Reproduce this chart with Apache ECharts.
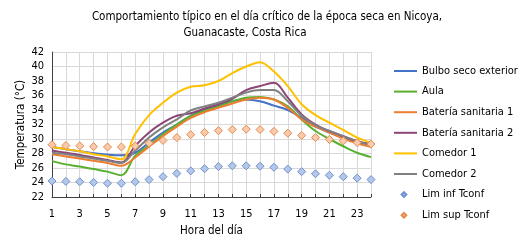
<!DOCTYPE html>
<html>
<head>
<meta charset="utf-8">
<script src="https://cdn.jsdelivr.net/npm/echarts@6/dist/echarts.min.js"></script>
<style>
  html, body { margin: 0; padding: 0; background: #fff; }
  #chart { width: 529px; height: 249px; }
</style>
</head>
<body>
<div id="chart"></div>
<script>
const hours = Array.from({ length: 24 }, (_, i) => String(i + 1));

const bulboSeco = [28.9, 28.6, 28.3, 28.05, 27.85, 27.75, 28.1, 29.5, 30.9, 32.0, 33.2, 34.0, 34.6, 35.2, 35.45, 35.2, 34.6, 34.0, 32.9, 31.7, 30.9, 30.2, 29.6, 29.2];
const aula = [26.95, 26.5, 26.2, 25.85, 25.5, 25.0, 27.7, 29.1, 30.65, 32.0, 33.2, 33.9, 34.5, 35.2, 35.7, 35.8, 35.45, 34.5, 32.7, 31.1, 30.0, 29.0, 28.1, 27.5];
const bateria1 = [27.9, 27.6, 27.3, 27.0, 26.7, 26.3, 27.45, 28.95, 30.4, 31.7, 32.9, 33.7, 34.3, 34.9, 35.45, 35.7, 35.45, 34.3, 32.7, 31.7, 30.9, 30.05, 29.4, 28.9];
const bateria2 = [28.4, 28.1, 27.8, 27.45, 27.1, 26.75, 29.05, 30.9, 32.25, 33.2, 33.55, 34.2, 34.8, 35.55, 36.75, 37.3, 37.75, 35.7, 33.4, 32.0, 31.1, 30.4, 29.7, 29.3];
const comedor1 = [28.9, 28.6, 28.3, 27.9, 27.6, 27.2, 30.7, 33.3, 35.0, 36.4, 37.2, 37.4, 38.0, 39.1, 40.0, 40.6, 39.3, 37.3, 34.8, 33.3, 32.25, 31.25, 30.2, 29.5];
const comedor2 = [28.1, 27.9, 27.6, 27.3, 27.0, 26.7, 28.4, 30.2, 31.6, 32.7, 33.95, 34.5, 35.0, 35.7, 36.4, 36.75, 36.75, 35.2, 33.2, 31.9, 31.1, 30.4, 29.7, 29.2];
const limInf = [24.2, 24.15, 24.1, 24.0, 23.9, 23.9, 24.1, 24.4, 24.8, 25.25, 25.6, 25.9, 26.2, 26.3, 26.3, 26.25, 26.1, 25.85, 25.5, 25.2, 25.0, 24.8, 24.6, 24.4];
const limSup = [29.2, 29.1, 29.05, 28.95, 28.9, 28.9, 29.05, 29.4, 29.8, 30.2, 30.6, 30.9, 31.15, 31.3, 31.35, 31.3, 31.05, 30.8, 30.5, 30.2, 29.95, 29.75, 29.5, 29.3];

const font = '"DejaVu Sans Condensed", "Liberation Sans", sans-serif';

// legend icons: a 2px line in a 23x7 box, and a small diamond in the same box
const lineIcon = 'path://M0,0L0,0M0,2.5L23,2.5L23,4.5L0,4.5ZM0,7L0,7M23,0L23,0';
const diamondIcon = 'path://M0,-1L0,-1M23,8L23,8M9.5,0.5L12.5,3.5L9.5,6.5L6.5,3.5Z';

const lineSeries = [
  { name: 'Bulbo seco exterior', data: bulboSeco, color: '#4472C4' },
  { name: 'Aula', data: aula, color: '#58B030' },
  { name: 'Batería sanitaria 1', data: bateria1, color: '#ED7D31' },
  { name: 'Batería sanitaria 2', data: bateria2, color: '#8C4577' },
  { name: 'Comedor 1', data: comedor1, color: '#FFC000' },
  { name: 'Comedor 2', data: comedor2, color: '#808080' },
].map(s => ({
  name: s.name,
  type: 'line',
  data: s.data,
  smooth: 0.35,
  symbol: 'none',
  color: s.color,
  lineStyle: { width: 2, color: s.color },
}));

const scatterSeries = [
  { name: 'Lim inf Tconf', data: limInf, fill: '#B4C7E7', border: '#6F8FD0' },
  { name: 'Lim sup Tconf', data: limSup, fill: '#F8CBAD', border: '#E58A4E' },
].map(s => ({
  name: s.name,
  type: 'line',
  data: s.data,
  symbol: 'diamond',
  symbolSize: 8,
  showSymbol: true,
  lineStyle: { width: 0, opacity: 0 },
  itemStyle: { color: s.fill, borderColor: s.border, borderWidth: 1 },
  color: s.fill,
}));

const chart = echarts.init(document.getElementById('chart'), null, { renderer: 'canvas' });

chart.setOption({
  animation: false,
  backgroundColor: '#fff',
  textStyle: { fontFamily: font },
  title: [
    {
      text: 'Comportamiento típico en el día crítico de la época seca en Nicoya,',
      left: 262, top: 6, textAlign: 'center',
      textStyle: { fontSize: 11.5, fontWeight: 'normal', color: '#000', fontFamily: font },
    },
    {
      text: 'Guanacaste, Costa Rica',
      left: 240, top: 22, textAlign: 'center',
      textStyle: { fontSize: 11.5, fontWeight: 'normal', color: '#000', fontFamily: font },
    },
  ],
  legend: {
    orient: 'vertical',
    left: 394,
    top: 64,
    padding: 0,
    itemWidth: 23,
    itemHeight: 7,
    itemGap: 6.6,
    textStyle: { fontSize: 11, color: '#000', fontFamily: font, lineHeight: 14 },
    data: [
      ...lineSeries.map(s => ({ name: s.name, icon: lineIcon, itemStyle: { color: s.color, borderWidth: 0 } })),
      { name: 'Lim inf Tconf', icon: diamondIcon },
      { name: 'Lim sup Tconf', icon: diamondIcon },
    ],
  },
  grid: { left: 52, right: 158, top: 52, bottom: 52 },
  xAxis: {
    type: 'category',
    data: hours,
    boundaryGap: false,
    name: 'Hora del día',
    nameLocation: 'middle',
    nameGap: 26,
    nameTextStyle: { fontSize: 11.5, color: '#000', fontFamily: font },
    axisLine: { lineStyle: { color: '#404040', width: 1 } },
    axisTick: { show: true, inside: true, length: 3, interval: 0, lineStyle: { color: '#404040' } },
    axisLabel: { interval: 1, fontSize: 11, color: '#000', margin: 12, fontFamily: font },
    splitLine: { show: true, interval: 0, lineStyle: { color: '#D9D9D9', width: 1 } },
  },
  yAxis: {
    type: 'value',
    min: 22,
    max: 42,
    interval: 2,
    name: 'Temperatura (°C)',
    nameLocation: 'middle',
    nameGap: 25,
    nameMoveOverlap: false,
    nameTextStyle: { fontSize: 11.5, color: '#000', fontFamily: font },
    axisLine: { show: true, lineStyle: { color: '#404040', width: 1 } },
    axisTick: { show: false },
    axisLabel: { fontSize: 11, color: '#000', margin: 8, fontFamily: font },
    splitLine: { show: true, lineStyle: { color: '#D9D9D9', width: 1 } },
  },
  series: [...lineSeries, ...scatterSeries],
});
</script>
</body>
</html>
